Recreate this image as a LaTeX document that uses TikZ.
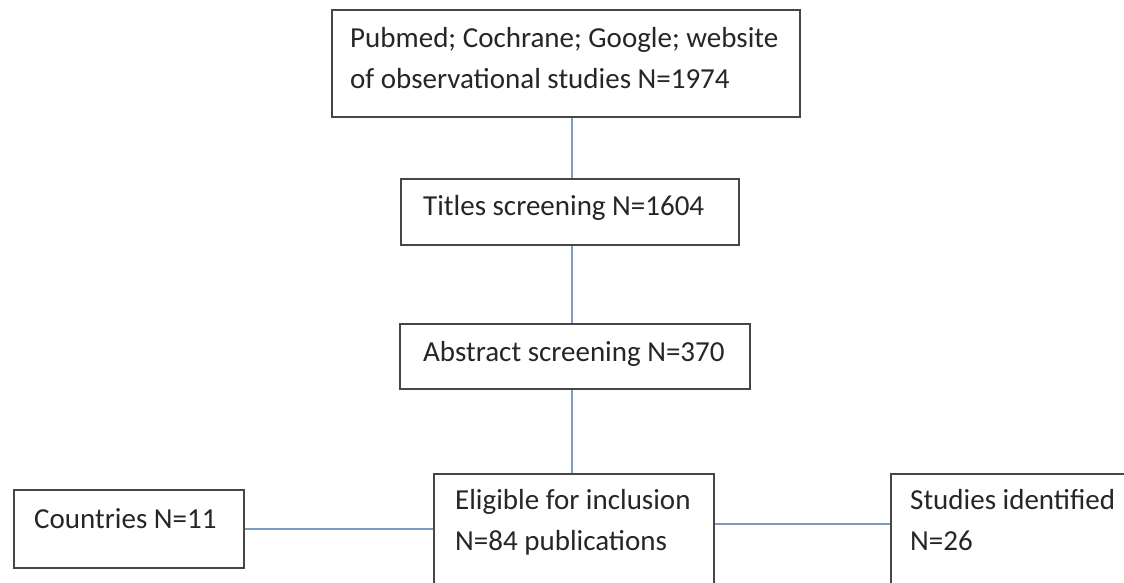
\documentclass[tikz,border=0pt]{standalone}
\usepackage{fontspec}
\setmainfont{Carlito}
\definecolor{boxline}{RGB}{70,70,70}
\definecolor{conn}{RGB}{125,155,195}
\begin{document}
\begin{tikzpicture}[x=1pt,y=-1pt,
  box/.style={draw=boxline,line width=2pt,fill=white,rectangle,inner sep=0pt,anchor=north west},
  txt/.style={inner sep=0pt,anchor=base west,align=left,font=\fontsize{29}{41}\selectfont,text=black!85},
  link/.style={draw=conn,line width=2pt}]
\clip (0,0) rectangle (1124,583);
\fill[white] (0,0) rectangle (1124,583);
\coordinate (spine) at (572,0);
\coordinate (rlev) at (0,524);
% boxes
\node[box,minimum width=468pt,minimum height=107pt] (src) at (331,9) {};
\node[box,minimum width=338pt,minimum height=66pt] (tit) at (400,178) {};
\node[box,minimum width=350pt,minimum height=65pt] (abs) at (399,323) {};
\node[box,minimum width=280pt,minimum height=160pt] (eli) at (433,473) {};
\node[box,minimum width=230pt,minimum height=78pt] (cty) at (13,489) {};
\node[box,minimum width=300pt,minimum height=160pt] (stu) at (890,473) {};
% texts
\node[txt] (srct) at (350,89) {Pubmed; Cochrane; Google; website\\of observational studies N=1974};
\node[txt] (titt) at (423,215) {Titles screening N=1604};
\node[txt] (abst) at (423,361) {Abstract screening N=370};
\node[txt] (ctyt) at (34,528) {Countries N=11};
\node[txt] (elit) at (455,550) {Eligible for inclusion\\N=84 publications};
\node[txt] (stut) at (910,550) {Studies identified\\N=26};
% connectors
\draw[link] (src.south -| spine) -- (tit.north -| spine);
\draw[link] (tit.south -| spine) -- (abs.north -| spine);
\draw[link] (abs.south -| spine) -- (eli.north -| spine);
\draw[link] (cty.east) -- (cty.east -| eli.west);
\draw[link] (eli.east |- rlev) -- (stu.west |- rlev);
\end{tikzpicture}
\end{document}
